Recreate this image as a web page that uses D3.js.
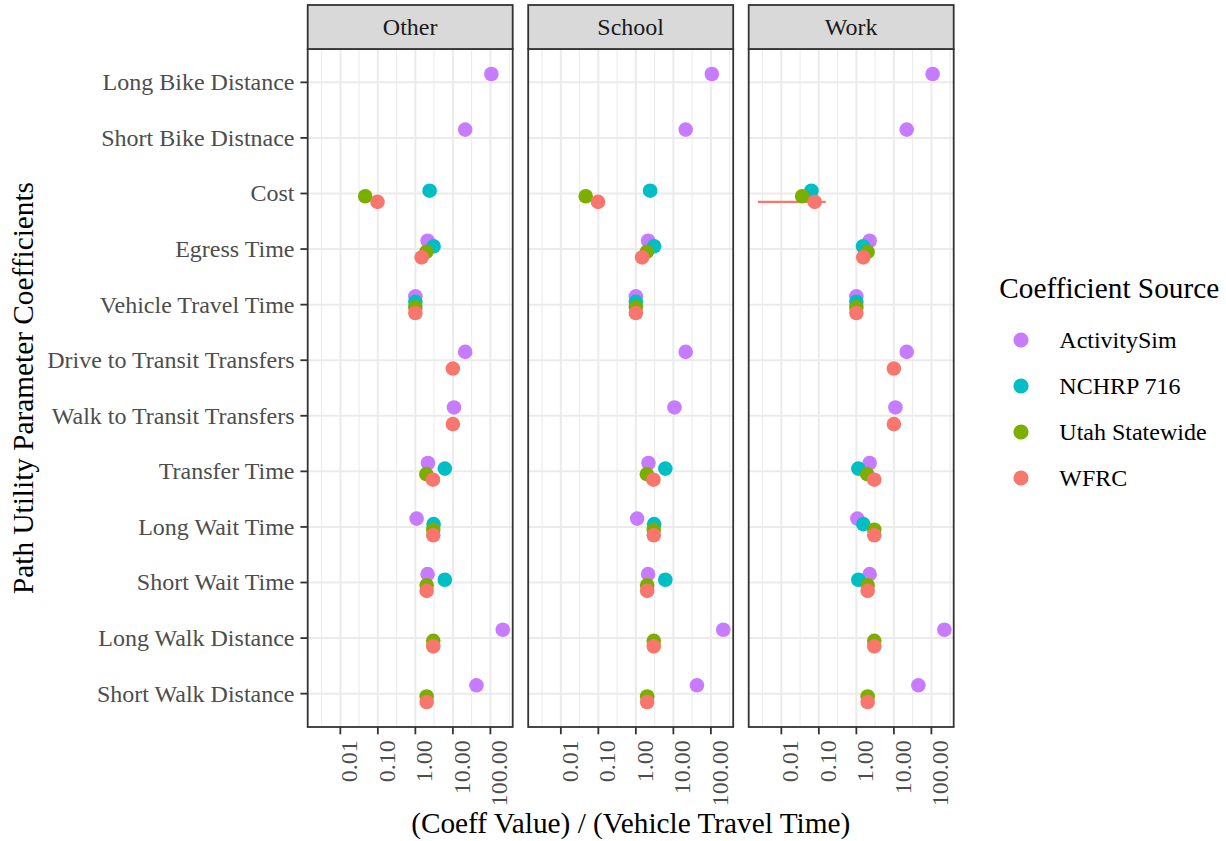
<!DOCTYPE html>
<html>
<head>
<meta charset="utf-8">
<script src="https://cdn.jsdelivr.net/npm/d3@7"></script>
<style>
  body { margin: 0; background: #fff; }
  text { font-family: "Liberation Serif", "Times New Roman", serif; }
</style>
</head>
<body>
<div id="chart"></div>
<script>
// facets, rows and colour groups
const panels = ["Other", "School", "Work"];
const parameters = ["Long Bike Distance", "Short Bike Distnace", "Cost", "Egress Time",
  "Vehicle Travel Time", "Drive to Transit Transfers", "Walk to Transit Transfers",
  "Transfer Time", "Long Wait Time", "Short Wait Time", "Long Walk Distance", "Short Walk Distance"];
const sources = ["ActivitySim", "NCHRP 716", "Utah Statewide", "WFRC"];
const colors = ["#C77CFF", "#00BFC4", "#7CAE00", "#F8766D"];
const tickValues = [0.01, 0.1, 1, 10, 100];

// (coeff value) / (vehicle travel time), one entry per parameter, null = not in model
const activitySimOther  = [106, 21.3, null, 2.12, 1, 21.3, 10.7, 2.17, 1.08, 2.12, 214, 42.5];
const activitySimSchool = [106, 21.3, null, 2.12, 1, 21.3, 10.7, 2.17, 1.08, 2.12, 214, 42.5];
const activitySimWork   = [108, 22, null, 2.26, 1, 22, 11, 2.26, 1.06, 2.26, 222, 45];
const nchrpOther  = [null, null, 2.4, 3.06, 1, null, null, 6.1, 3.06, 6.1, null, null];
const nchrpSchool = [null, null, 2.4, 3.06, 1, null, null, 6.1, 3.06, 6.1, null, null];
const nchrpWork   = [null, null, 0.0635, 1.5, 1, null, null, 1.13, 1.53, 1.13, null, null];
const utahOther  = [null, null, 0.046, 1.96, 1, null, null, 1.96, 3, 2, 3, 2];
const utahSchool = [null, null, 0.046, 1.96, 1, null, null, 1.96, 3, 2, 3, 2];
const utahWork   = [null, null, 0.0359, 2, 1, null, null, 1.95, 3, 2, 3, 2];
const wfrcOther  = [null, null, 0.098, 1.47, 1, 10, 10, 2.94, 3, 2, 3, 2];
const wfrcSchool = [null, null, 0.098, 1.47, 1, null, null, 2.94, 3, 2, 3, 2];
const wfrcWork   = [null, null, 0.0776, 1.53, 1, 10, 10, 3, 3, 2, 3, 2];

// interval shown for WFRC cost, work purpose
const wfrcWorkCostLow = 0.00239;
const wfrcWorkCostHigh = 0.153;

const valueTable = {
  "ActivitySim": [activitySimOther, activitySimSchool, activitySimWork],
  "NCHRP 716": [nchrpOther, nchrpSchool, nchrpWork],
  "Utah Statewide": [utahOther, utahSchool, utahWork],
  "WFRC": [wfrcOther, wfrcSchool, wfrcWork]
};

let points = [];
sources.forEach(s => {
  valueTable[s].forEach((vals, pi) => {
    vals.forEach((v, i) => {
      if (v != null) points.push({panel: panels[pi], parameter: parameters[i], source: s, value: v});
    });
  });
});
const intervals = [{panel: "Work", parameter: "Cost", source: "WFRC", low: wfrcWorkCostLow, high: wfrcWorkCostHigh}];

const width = 1226, height = 841;
const panelTop = 49, panelBottom = 727;
const panelLeft = 307.7, panelW = 205, panelGap = 15.5;
const stripTop = 5;
const baseSize = 29.3, textSize = 24;

const svg = d3.select("#chart").append("svg")
  .attr("width", width)
  .attr("height", height)
  .style("display", "block");

svg.append("rect").attr("width", width).attr("height", height).attr("fill", "white");

// log x with 5% expansion like ggplot
let allVals = points.map(d => d.value).concat(intervals.map(d => d.low), intervals.map(d => d.high));
let lmin = Math.log10(d3.min(allVals)), lmax = Math.log10(d3.max(allVals));
let pad = (lmax - lmin) * 0.05;
const x = d3.scaleLog()
  .domain([Math.pow(10, lmin - pad), Math.pow(10, lmax + pad)])
  .range([0, panelW]);

const y = d3.scalePoint()
  .domain(parameters)
  .range([panelTop, panelBottom])
  .padding(0.6);
const step = y.step();
const dodge = d3.scaleBand().domain(sources).range([-0.2 * step, 0.2 * step]);
const dy = s => dodge(s) + dodge.bandwidth() / 2;
const color = d3.scaleOrdinal().domain(sources).range(colors);

let minorTicks = [];
for (let k = Math.floor(lmin - pad); k <= Math.ceil(lmax + pad); k++) {
  let v = Math.pow(10, k + 0.5);
  if (v > x.domain()[0] && v < x.domain()[1]) minorTicks.push(v);
}

panels.forEach((p, pi) => {
  const g = svg.append("g")
    .attr("transform", "translate(" + (panelLeft + pi * (panelW + panelGap)) + ",0)");

  g.append("rect")
    .attr("x", 0).attr("y", panelTop)
    .attr("width", panelW).attr("height", panelBottom - panelTop)
    .attr("fill", "white");

  g.selectAll(".minor").data(minorTicks).join("line")
    .attr("x1", d => x(d)).attr("x2", d => x(d))
    .attr("y1", panelTop).attr("y2", panelBottom)
    .attr("stroke", "#EBEBEB").attr("stroke-width", 1);

  g.selectAll(".majorx").data(tickValues).join("line")
    .attr("x1", d => x(d)).attr("x2", d => x(d))
    .attr("y1", panelTop).attr("y2", panelBottom)
    .attr("stroke", "#EBEBEB").attr("stroke-width", 2);

  g.selectAll(".majory").data(parameters).join("line")
    .attr("x1", 0).attr("x2", panelW)
    .attr("y1", d => y(d)).attr("y2", d => y(d))
    .attr("stroke", "#EBEBEB").attr("stroke-width", 2);

  g.selectAll(".interval").data(intervals.filter(d => d.panel === p)).join("line")
    .attr("x1", d => x(d.low)).attr("x2", d => x(d.high))
    .attr("y1", d => y(d.parameter) + dy(d.source))
    .attr("y2", d => y(d.parameter) + dy(d.source))
    .attr("stroke", d => color(d.source)).attr("stroke-width", 2.2);

  g.selectAll(".pt").data(points.filter(d => d.panel === p)).join("circle")
    .attr("cx", d => x(d.value))
    .attr("cy", d => y(d.parameter) + dy(d.source))
    .attr("r", 7.3)
    .attr("fill", d => color(d.source));

  g.append("rect")
    .attr("x", 0).attr("y", panelTop)
    .attr("width", panelW).attr("height", panelBottom - panelTop)
    .attr("fill", "none").attr("stroke", "#333333").attr("stroke-width", 1.8);

  // strip
  g.append("rect")
    .attr("x", 0).attr("y", stripTop)
    .attr("width", panelW).attr("height", panelTop - stripTop)
    .attr("fill", "#D9D9D9").attr("stroke", "#333333").attr("stroke-width", 1.8);
  g.append("text")
    .attr("x", panelW / 2).attr("y", (stripTop + panelTop) / 2)
    .attr("dy", "0.33em")
    .attr("text-anchor", "middle")
    .attr("font-size", textSize)
    .attr("fill", "#1A1A1A")
    .text(p);

  // bottom axis
  g.selectAll(".xtick").data(tickValues).join("line")
    .attr("x1", d => x(d)).attr("x2", d => x(d))
    .attr("y1", panelBottom).attr("y2", panelBottom + 7.3)
    .attr("stroke", "#333333").attr("stroke-width", 1.8);
  g.selectAll(".xlab").data(tickValues).join("text")
    .attr("transform", d => "translate(" + x(d) + "," + (panelBottom + 13.2) + ") rotate(-90)")
    .attr("text-anchor", "end")
    .attr("dy", "0.7em")
    .attr("font-size", textSize)
    .attr("fill", "#4D4D4D")
    .text(d => d3.format(".2f")(d));

  if (pi === 0) {
    g.selectAll(".ytick").data(parameters).join("line")
      .attr("x1", -7.3).attr("x2", 0)
      .attr("y1", d => y(d)).attr("y2", d => y(d))
      .attr("stroke", "#333333").attr("stroke-width", 1.8);
    g.selectAll(".ylab").data(parameters).join("text")
      .attr("x", -13.2).attr("y", d => y(d))
      .attr("dy", "0.33em")
      .attr("text-anchor", "end")
      .attr("font-size", textSize)
      .attr("fill", "#4D4D4D")
      .text(d => d);
  }
});

// axis titles
const plotMid = panelLeft + (3 * panelW + 2 * panelGap) / 2;
svg.append("text")
  .attr("x", plotMid).attr("y", 833)
  .attr("text-anchor", "middle")
  .attr("font-size", baseSize)
  .attr("fill", "black")
  .text("(Coeff Value) / (Vehicle Travel Time)");

svg.append("text")
  .attr("transform", "translate(33.3," + (panelTop + panelBottom) / 2 + ") rotate(-90)")
  .attr("text-anchor", "middle")
  .attr("font-size", baseSize)
  .attr("fill", "black")
  .text("Path Utility Parameter Coefficients");

// legend
const legend = svg.append("g").attr("transform", "translate(999.3,0)");
legend.append("text")
  .attr("x", 0).attr("y", 298)
  .attr("font-size", baseSize)
  .attr("fill", "black")
  .text("Coefficient Source");
const item = legend.selectAll(".item").data(sources).join("g")
  .attr("transform", (d, i) => "translate(0," + (340 + i * 46) + ")");
item.append("circle")
  .attr("cx", 21.7).attr("cy", 0).attr("r", 7.6)
  .attr("fill", d => color(d));
item.append("text")
  .attr("x", 60).attr("y", 0)
  .attr("dy", "0.33em")
  .attr("font-size", textSize)
  .attr("fill", "black")
  .text(d => d);
</script>
</body>
</html>
